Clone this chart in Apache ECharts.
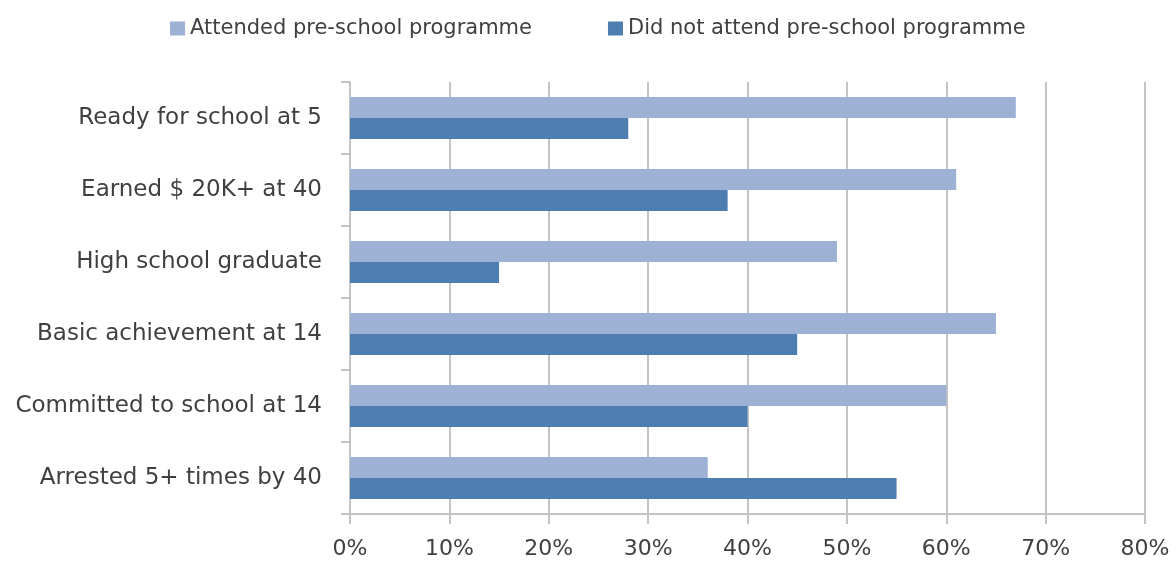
<!DOCTYPE html>
<html>
<head>
<meta charset="utf-8">
<script src="https://cdn.jsdelivr.net/npm/echarts@6/dist/echarts.min.js"></script>
<style>
  html, body { margin: 0; padding: 0; background: #fff; }
  #chart { width: 1176px; height: 561px; }
</style>
</head>
<body>
<div id="chart"></div>
<script>
// categories, top to bottom
const categories = [
  'Ready for school at 5',
  'Earned $ 20K+ at 40',
  'High school graduate',
  'Basic achievement at 14',
  'Committed to school at 14',
  'Arrested 5+ times by 40'
];
const attended = [67, 61, 49, 65, 60, 36];
const notAttended = [28, 38, 15, 45, 40, 55];
const seriesNames = ['Attended pre-school programme', 'Did not attend pre-school programme'];

const gridColor = '#c4c4c4';
const textColor = '#404040';
const font = 'DejaVu Sans';

const chart = echarts.init(document.getElementById('chart'));

const option = {
  animation: false,
  textStyle: { fontFamily: font },
  legend: {
    top: 13,
    left: 165,
    itemWidth: 15,
    itemHeight: 14,
    itemGap: 76,
    icon: 'rect',
    textStyle: { fontFamily: font, fontSize: 21, color: textColor },
    data: seriesNames
  },
  grid: {
    left: 350,
    right: 31,
    top: 82,
    bottom: 47,
    containLabel: false
  },
  xAxis: {
    type: 'value',
    min: 0,
    max: 80,
    interval: 10,
    axisLine: { show: true, lineStyle: { color: gridColor, width: 2 } },
    axisTick: { show: true, length: 10, lineStyle: { color: gridColor, width: 2 } },
    splitLine: { show: true, lineStyle: { color: gridColor, width: 2 } },
    axisLabel: {
      formatter: '{value}%',
      fontFamily: font,
      fontSize: 22,
      color: textColor,
      margin: 24
    }
  },
  yAxis: {
    type: 'category',
    inverse: true,
    data: categories,
    axisLine: { show: true, lineStyle: { color: gridColor, width: 2 } },
    axisTick: { show: true, length: 9, lineStyle: { color: gridColor, width: 2 } },
    axisLabel: {
      fontFamily: font,
      fontSize: 23,
      color: textColor,
      margin: 28
    }
  },
  series: [
    {
      name: seriesNames[0],
      type: 'bar',
      data: attended,
      barWidth: 21,
      barGap: '0%',
      itemStyle: { color: '#9db1d5' }
    },
    {
      name: seriesNames[1],
      type: 'bar',
      data: notAttended,
      barWidth: 21,
      itemStyle: { color: '#4e7daf' }
    }
  ]
};

chart.setOption(option);
</script>
</body>
</html>
